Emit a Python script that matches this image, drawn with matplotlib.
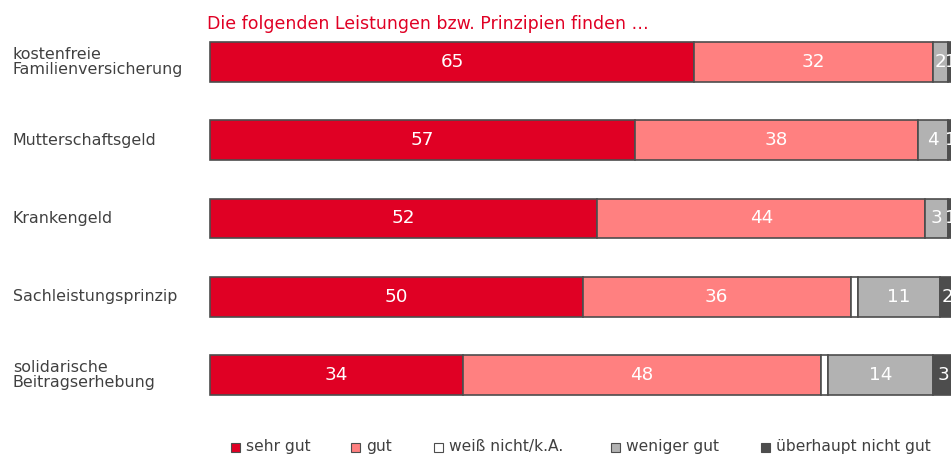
import matplotlib
matplotlib.use("Agg")
import matplotlib.pyplot as plt
from matplotlib.patches import Rectangle

categories = ["kostenfreie\nFamilienversicherung", "Mutterschaftsgeld", "Krankengeld",
              "Sachleistungsprinzip", "solidarische\nBeitragserhebung"]
series_names = ["sehr gut", "gut", "weiß nicht/k.A.", "weniger gut", "überhaupt nicht gut"]
sehr_gut = [65, 57, 52, 50, 34]
gut = [32, 38, 44, 36, 48]
weiss_nicht = [0, 0, 0, 1, 1]
weniger_gut = [2, 4, 3, 11, 14]
ueberhaupt_nicht = [1, 1, 1, 2, 3]
title = "Die folgenden Leistungen bzw. Prinzipien finden …"

series = [sehr_gut, gut, weiss_nicht, weniger_gut, ueberhaupt_nicht]
colors = ["#E00024", "#FF8080", "#FFFFFF", "#B2B2B2", "#4D4D4D"]
label_show = [True, True, False, True, True]
edge = "#4D4D4D"
textgray = "#404040"

W, H = 951, 455
fig = plt.figure(figsize=(W / 100, H / 100), dpi=100)
ax = fig.add_axes([210 / W, 1 - 414 / H, (955 - 210) / W, 391 / H])
ax.set_xlim(0, 100)
ax.set_ylim(len(categories) - 0.5, -0.5)
ax.axis("off")

ypos = list(range(len(categories)))
left = [0] * len(categories)
for vals, col, show in zip(series, colors, label_show):
    bars = ax.barh(ypos, vals, left=left, height=0.51, color=col,
                   edgecolor=edge, linewidth=1.2, clip_on=False)
    if show:
        for y, v, l in zip(ypos, vals, left):
            if v > 0:
                ax.text(l + v / 2, y, str(v), ha="center", va="center",
                        color="white", fontsize=13.2)
    left = [a + b for a, b in zip(left, vals)]

for y, cat in zip(ypos, categories):
    yfig = 1 - (23 + 78.2 * (y + 0.5)) / H
    fig.text(13 / W, yfig, cat, ha="left", va="center", color=textgray,
             fontsize=11.4, linespacing=1.02)

fig.text(207 / W, 1 - 24 / H, title, ha="left", va="center", color="#E00024", fontsize=12.5)

leg_x = [231, 351, 434, 611, 761]
ly = 447
for x, name, col in zip(leg_x, series_names, colors):
    fig.patches.append(Rectangle((x / W, 1 - (ly + 4.5) / H), 9 / W, 9 / H,
                                 facecolor=col, edgecolor=edge, linewidth=0.8,
                                 transform=fig.transFigure, figure=fig))
    fig.text((x + 15) / W, 1 - ly / H, name, ha="left", va="center",
             color=textgray, fontsize=11.2)

fig.savefig("out.png", dpi=100)
